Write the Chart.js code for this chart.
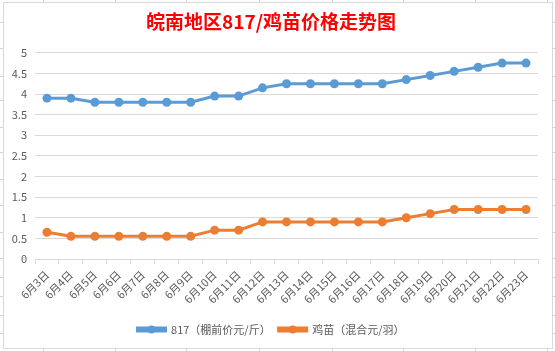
<!DOCTYPE html>
<html><head><meta charset="utf-8">
<script src="https://cdn.jsdelivr.net/npm/chart.js@4"></script>
<style>
html,body{margin:0;padding:0;background:#fff;}
#bg{position:absolute;left:0;top:0;width:555px;height:351px;overflow:hidden;}
.h{position:absolute;left:0;width:555px;height:1px;background:#d4d4d4;}
.v{position:absolute;top:0;height:351px;width:1px;background:#d4d4d4;}
#box{position:absolute;left:3px;top:2px;width:548px;height:345px;border:1px solid #d9d9d9;background:#fff;}
canvas{display:block}
</style></head>
<body>
<div id="bg"></div>
<div id="box"><canvas id="c" width="548" height="345"></canvas></div>
<script>
const categories = ["6月3日","6月4日","6月5日","6月6日","6月7日","6月8日","6月9日","6月10日","6月11日","6月12日","6月13日","6月14日","6月15日","6月16日","6月17日","6月18日","6月19日","6月20日","6月21日","6月22日","6月23日"];
const price817 = [3.9,3.9,3.8,3.8,3.8,3.8,3.8,3.95,3.95,4.15,4.25,4.25,4.25,4.25,4.25,4.35,4.45,4.55,4.65,4.75,4.75];
const chickPrice = [0.65,0.55,0.55,0.55,0.55,0.55,0.55,0.7,0.7,0.9,0.9,0.9,0.9,0.9,0.9,1.0,1.1,1.2,1.2,1.2,1.2];
const seriesNames = ["817（棚前价元/斤）","鸡苗（混合元/羽）"];
const titleText = "皖南地区817/鸡苗价格走势图";

// spreadsheet background grid
const rows = [22,48,76,100,127,152,179,205,232,258,277,296,315,333];
const cols = [43,115,186,259,332,403,475,547];
const bg = document.getElementById('bg');
rows.forEach(y=>{const d=document.createElement('div');d.className='h';d.style.top=y+'px';bg.appendChild(d);});
cols.forEach(x=>{const d=document.createElement('div');d.className='v';d.style.left=x+'px';bg.appendChild(d);});

const FONT = "'Noto Sans CJK SC','Noto Sans',sans-serif";
const blue = '#5B9BD5', orange = '#ED7D31';

const legendMarks = {
  id: 'legendMarks',
  afterDraw(chart) {
    const lg = chart.legend; if (!lg || !lg.legendHitBoxes) return;
    const ctx = chart.ctx;
    lg.legendHitBoxes.forEach((hb, i) => {
      const ds = chart.data.datasets[i];
      const bw = lg.options.labels.boxWidth;
      const cx = hb.left + bw/2, cy = hb.top + hb.height/2;
      ctx.save();
      ctx.fillStyle = ds.borderColor;
      ctx.beginPath(); ctx.arc(cx, cy, 4, 0, Math.PI*2); ctx.fill();
      ctx.restore();
    });
  }
};

new Chart(document.getElementById('c'), {
  type: 'line',
  data: {
    labels: categories,
    datasets: [
      {label: seriesNames[0], data: price817, borderColor: blue, backgroundColor: blue,
       borderWidth: 3, pointRadius: 4.5, pointBackgroundColor: blue, pointBorderColor: blue, pointBorderWidth: 0, tension: 0},
      {label: seriesNames[1], data: chickPrice, borderColor: orange, backgroundColor: orange,
       borderWidth: 3, pointRadius: 4.5, pointBackgroundColor: orange, pointBorderColor: orange, pointBorderWidth: 0, tension: 0}
    ]
  },
  options: {
    responsive: false,
    animation: false,
    layout: {padding: {left: 0, right: 14, top: 0, bottom: 3}},
    plugins: {
      title: {display: true, text: titleText, color: '#FF0000',
              font: {family: FONT, size: 19, weight: 'bold', lineHeight: 1.2},
              padding: {top: 7, bottom: 20}},
      legend: {position: 'bottom',
               labels: {color: '#595959', font: {family: FONT, size: 11}, boxWidth: 28, boxHeight: 3, padding: 8}},
      tooltip: {enabled: false}
    },
    scales: {
      x: {
        offset: true,
        grid: {display: true, offset: true, drawOnChartArea: false, drawTicks: true, tickLength: 5, color: '#d9d9d9'},
        border: {display: true, color: '#d9d9d9'},
        ticks: {color: '#595959', font: {family: FONT, size: 11}, maxRotation: 45, minRotation: 45, autoSkip: false, padding: 4},
        afterFit(s) { s.height = 57; }
      },
      y: {
        min: 0, max: 5,
        grid: {color: '#d9d9d9', drawTicks: false},
        border: {display: false},
        ticks: {stepSize: 0.5, color: '#595959', font: {family: FONT, size: 11}, padding: 8,
                callback: v => String(Math.round(v * 10) / 10)},
        afterFit(s) { s.width = 31; }
      }
    }
  },
  plugins: [legendMarks]
});
</script>
</body></html>
